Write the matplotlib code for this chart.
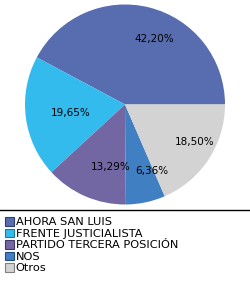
import matplotlib
matplotlib.use("Agg")
import matplotlib.pyplot as plt
from matplotlib.lines import Line2D

# Vote shares
labels = ["AHORA SAN LUIS", "FRENTE JUSTICIALISTA", "PARTIDO TERCERA POSICIÓN", "NOS", "Otros"]
values = [42.20, 19.65, 13.29, 6.36, 18.50]
colors = ["#586db0", "#33bbee", "#7267a2", "#3f7fc2", "#d3d3d3"]
edges = ["#2e3d70", "#1a7aa0", "#3f3866", "#234e80", "#808080"]

fig = plt.figure(figsize=(2.5, 2.85), dpi=100)
ax = fig.add_axes([0.1, 0.2825, 0.8, 0.7018])

wedges, texts, autotexts = ax.pie(
    values, colors=colors, startangle=0, counterclock=True,
    autopct=lambda p: f"{p:.2f}%".replace(".", ","), pctdistance=0.68,
    wedgeprops=dict(linewidth=0), textprops=dict(fontsize=7.5, color="black"),
)
# labels sit a bit right of the wedge centre, like the original renderer
for t in autotexts:
    x, y = t.get_position()
    t.set_position((x + 0.13, y))
ax.set_xlim(-1, 1)
ax.set_ylim(-1, 1)
ax.set_aspect("equal")

# separator above the legend
fig.add_artist(Line2D([0, 1], [0.262, 0.262], color="black", linewidth=1))

handles = []
for c, e in zip(colors, edges):
    handles.append(plt.Rectangle((0, 0), 1, 1, facecolor=c, edgecolor=e, linewidth=0.8))
fig.legend(handles, labels, loc="upper left", bbox_to_anchor=(0.02, 0.238),
           frameon=False, fontsize=8.2, handlelength=0.8, handleheight=0.8,
           handletextpad=0.15, labelspacing=0.1, borderpad=0, borderaxespad=0)

fig.savefig("out.png", dpi=100, facecolor="white")
